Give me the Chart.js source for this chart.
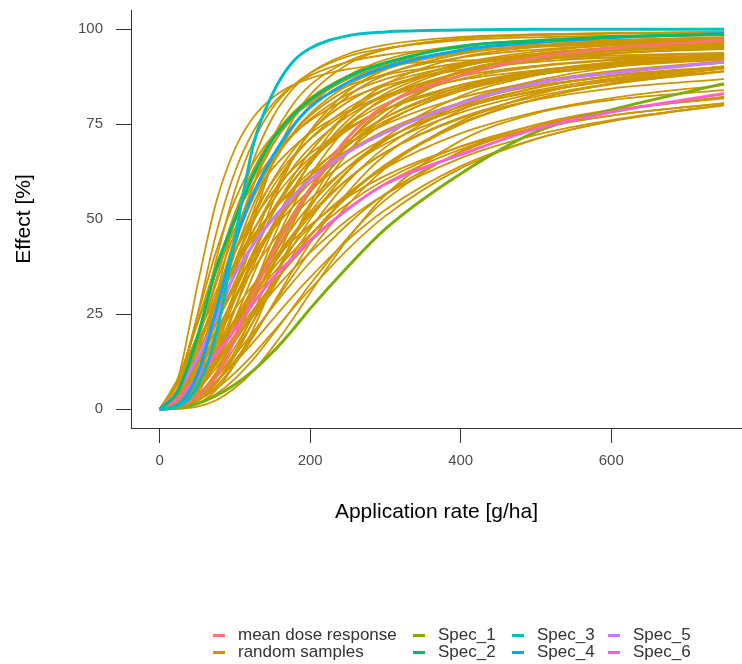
<!DOCTYPE html>
<html>
<head>
<meta charset="utf-8">
<title>Dose response</title>
<script src="https://cdn.jsdelivr.net/npm/chart.js@4/dist/chart.umd.min.js"></script>
<style>
  body { margin: 0; background: #fff; }
  #wrap { position: relative; width: 742px; height: 664px; }
  #legend {
    position: absolute; left: 213px; top: 627px;
    display: grid; grid-auto-flow: column;
    grid-template-rows: 16.7px 16.7px;
    grid-template-columns: 200px 99px 96px 110px;
    font: 17px "Liberation Sans", Arial, sans-serif; color: #333;
  }
  .item { display: flex; align-items: center; white-space: nowrap; }
  .key { width: 12px; height: 3px; margin-right: 13px; }
</style>
</head>
<body>
<div id="wrap">
  <canvas id="chart" width="742" height="664"></canvas>
  <div id="legend"></div>
</div>
<script>
// dose grid (g/ha) shared by every curve
const doses = [0, 25, 50, 75, 100, 125, 150, 175, 200, 250, 300, 400, 500, 600, 750];

// species curves and mean, effect in %
const meanResponse = [0, 0.7, 3.5, 8.5, 18.5, 30.5, 41, 50, 58, 71.5, 80, 87.8, 92.5, 95, 97.1];
const spec1 = [0, 0.4, 1.5, 3.6, 6.5, 10.3, 15, 20.5, 26.5, 37.5, 47.5, 62, 73, 78.8, 85.7];
const spec2 = [0, 5, 19, 37, 50, 62, 71, 77, 81.5, 87.5, 91.2, 95.5, 97, 98, 98.7];
const spec3 = [0, 0.8, 6, 19.5, 45, 70, 83, 91, 95, 98.3, 99.3, 99.8, 100, 100, 100];
const spec4 = [0, 1.3, 9, 26, 44, 57, 66.5, 74, 79.5, 86, 90, 94.5, 96.6, 97.8, 98.9];
const spec5 = [0, 5, 13.5, 24, 35.5, 43.5, 50, 55.5, 60.5, 67.6, 72.8, 80.5, 85.8, 88.4, 91.4];
const spec6 = [0, 3, 8.5, 14.5, 21, 28, 34.5, 39.5, 44.5, 52.7, 59.3, 67, 73.8, 78.2, 83.1];

// random samples
const sample01 = [0, 8.6, 32.4, 54.4, 68.5, 77, 82, 85.1, 87.1, 89.5, 90.7, 91.8, 92.3, 92.5, 92.7];
const sample02 = [0, 5.9, 24.7, 46.2, 62.5, 73.3, 80.3, 84.8, 87.8, 91.4, 93.3, 95.1, 95.9, 96.3, 96.6];
const sample03 = [0, 3.7, 18.5, 39.3, 57.6, 70.7, 79.3, 84.8, 88.5, 92.9, 95, 97.1, 97.9, 98.3, 98.6];
const sample04 = [0, 1.5, 11, 29.6, 49.8, 65.8, 76.8, 83.9, 88.5, 93.5, 95.9, 98, 98.7, 99, 99.3];
const sample05 = [0, 3.6, 14.8, 29.5, 43.9, 55.9, 65.2, 72.1, 77.3, 84.2, 88.3, 92.6, 94.6, 95.7, 96.6];
const sample06 = [0, 1.2, 7.8, 20.9, 37.1, 52.4, 64.5, 73.5, 79.9, 87.7, 92, 95.7, 97.2, 97.9, 98.4];
const sample07 = [0, 3.5, 12.6, 24.5, 36.4, 47, 56, 63.1, 68.9, 77.1, 82.5, 88.6, 91.8, 93.6, 95.2];
const sample08 = [0, 0.6, 4.3, 13.1, 26.3, 40.9, 54.4, 65.1, 73.3, 83.7, 89.4, 94.5, 96.4, 97.2, 97.9];
const sample09 = [0, 1.3, 6.5, 15.4, 26.6, 38, 48.5, 57.3, 64.6, 75, 81.6, 88.6, 91.9, 93.6, 95];
const sample10 = [0, 0.5, 3.3, 9.7, 19.3, 30.7, 42.3, 52.7, 61.5, 74.3, 82.1, 90, 93.3, 95, 96.1];
const sample11 = [0, 0.2, 1.4, 5.1, 11.9, 21.4, 32.7, 44, 54.2, 69.9, 79.6, 89, 92.6, 94.3, 95.4];
const sample12 = [0, 8, 22.9, 37.9, 50.2, 59.6, 66.7, 72, 76, 81.7, 85.2, 89.3, 91.4, 92.6, 93.7];
const sample13 = [0, 7.3, 19.2, 31, 41.5, 50.1, 57.1, 62.8, 67.3, 74.1, 78.9, 84.7, 88.1, 90.1, 92.1];
const sample14 = [0, 4.3, 12.9, 22.6, 32.1, 40.6, 48, 54.2, 59.5, 67.6, 73.4, 80.7, 85.1, 87.6, 90.1];
const sample15 = [0, 1.9, 7.1, 14.7, 23.4, 32.1, 40.3, 47.5, 53.8, 63.7, 70.9, 79.7, 84.6, 87.6, 90.1];
const sample16 = [0, 0.7, 3.3, 8.3, 15.1, 23.3, 31.7, 40, 47.5, 59.9, 69, 79.9, 85.5, 88.6, 91.2];
const sample17 = [0, 2.1, 9, 19.3, 30.8, 41.8, 51.4, 59.2, 65.5, 74.6, 80.4, 86.9, 90.1, 91.8, 93.2];
const sample18 = [0, 5.3, 18, 33, 46.4, 57.1, 65.4, 71.7, 76.4, 82.9, 86.9, 91.2, 93.4, 94.6, 95.6];
const sample19 = [0, 0.4, 4.3, 14.9, 31.7, 49.8, 64.8, 75.5, 82.8, 90.8, 94.7, 97.6, 98.6, 99, 99.3];
const sample20 = [0, 5.7, 14.8, 24.1, 32.8, 40.4, 47.1, 52.9, 57.7, 65.4, 71.3, 79, 83.9, 87, 90.1];
const sample21 = [0, 2.6, 8.4, 15.8, 23.8, 31.7, 39.1, 45.6, 51.4, 60.7, 67.7, 76.8, 82.3, 85.7, 88.9];
const sample22 = [0, 0.4, 2.2, 6, 11.9, 19.3, 27.5, 35.9, 43.8, 57.1, 67, 78.7, 84.6, 87.8, 90.2];
const sample23 = [0, 8.3, 19.3, 29.6, 38.5, 45.9, 52.1, 57.2, 61.5, 68.2, 73.1, 79.6, 83.6, 86.3, 89];
const sample24 = [0, 0.5, 2.3, 5.4, 9.6, 14.6, 20.2, 26, 31.6, 42.1, 50.9, 63.4, 71.1, 75.9, 80.2];
const sample25 = [0, 2.2, 6.7, 12.4, 18.6, 24.8, 30.9, 36.4, 41.3, 49.9, 56.6, 66.1, 72.2, 76.1, 80];
const sample26 = [0, 3.2, 9, 15.8, 22.8, 29.4, 35.6, 41.1, 46, 54.1, 60.4, 69.2, 74.8, 78.5, 82.1];
const sample27 = [0, 0.2, 1.4, 4, 8, 13.3, 19.6, 26.2, 32.9, 45.2, 55.1, 67.9, 74.9, 78.8, 81.8];
const sample28 = [0, 4.4, 11.5, 19.1, 26.4, 32.9, 38.9, 44.1, 48.5, 55.9, 61.5, 69.1, 74, 77.3, 80.6];
const sample29 = [0, 0.1, 0.7, 2.4, 5.6, 10.2, 16.3, 23.2, 30.6, 44.8, 56.4, 70.7, 77.9, 81.4, 84];
const sample30 = [0, 1.1, 4.1, 8.6, 14.3, 20.5, 26.9, 33, 38.7, 48.7, 56.7, 67.6, 74.3, 78.5, 82.3];
const sample31 = [0, 2.5, 11.7, 26, 41.1, 54.2, 64.4, 72.2, 77.8, 85.3, 89.5, 93.8, 95.6, 96.6, 97.4];
const sample32 = [0, 0.9, 4.9, 12.8, 23.7, 35.7, 46.9, 56.7, 64.7, 76, 83.1, 90.4, 93.6, 95.2, 96.4];
const sample33 = [0, 4.9, 19.2, 36.6, 51.7, 63.3, 71.7, 77.7, 82, 87.6, 90.7, 94, 95.6, 96.3, 97];
const sample34 = [0, 1.2, 6.9, 17.6, 31.1, 44.6, 56.3, 65.6, 72.8, 82.4, 88, 93.5, 95.8, 97, 97.9];
const sample35 = [0, 1.4, 6.2, 13.8, 23, 32.7, 41.9, 50, 57, 67.9, 75.4, 84.2, 88.8, 91.3, 93.4];
const sample36 = [0, 1.7, 6.4, 13.4, 21.5, 29.9, 38, 45.4, 52, 62.8, 70.7, 80.8, 86.5, 90, 93.1];
const sample37 = [0, 4.4, 17.6, 34.2, 49.3, 61.1, 69.8, 76.2, 80.9, 86.9, 90.4, 94.1, 95.7, 96.6, 97.3];
const sample38 = [0, 1.2, 8.6, 24, 42.7, 59.2, 71.4, 79.7, 85.3, 91.6, 94.8, 97.5, 98.4, 98.9, 99.2];
const sample39 = [0, 3.8, 13.7, 26.2, 38.6, 49.5, 58.4, 65.5, 71.2, 79.2, 84.3, 90.2, 93.2, 94.8, 96.3];
const sample40 = [0, 1.4, 7.1, 16.8, 28.8, 40.7, 51.5, 60.5, 67.7, 77.9, 84.2, 91, 94.1, 95.8, 97.1];
const sample41 = [0, 0.4, 3, 9.2, 19.3, 31.8, 44.5, 55.9, 65.1, 78, 85.5, 92.6, 95.3, 96.6, 97.5];
const sample42 = [0, 0.6, 3.6, 9.7, 18.5, 28.8, 39.3, 49, 57.4, 70.2, 78.6, 87.7, 92, 94.2, 95.8];
const sample43 = [0, 5.6, 16.2, 27.6, 38.2, 47.3, 54.9, 61.2, 66.2, 73.7, 79, 85.4, 89, 91.2, 93.3];
const sample44 = [0, 5, 16.3, 29.5, 41.7, 51.7, 59.9, 66.2, 71.1, 78.1, 82.7, 87.7, 90.4, 92, 93.3];
const sample45 = [0, 7.6, 24.4, 41.5, 55.1, 65, 71.9, 76.9, 80.5, 85.1, 88, 90.9, 92.3, 93.1, 93.8];
const sample46 = [0, 2.9, 10.1, 19.6, 29.5, 38.9, 47.3, 54.4, 60.4, 69.5, 75.9, 83.7, 88, 90.6, 92.8];
const sample47 = [0, 0.7, 3.6, 8.9, 16.3, 24.8, 33.8, 42.3, 50, 62.6, 71.6, 82.4, 87.9, 90.9, 93.3];
const sample48 = [0, 4.3, 12.2, 20.8, 29.3, 37.1, 44.1, 50.2, 55.3, 63.6, 69.9, 78.1, 83.2, 86.5, 89.7];
const sample49 = [0, 1.3, 5.2, 10.8, 17.8, 25.2, 32.4, 39.4, 45.7, 56.3, 64.4, 75.3, 81.6, 85.5, 89];
const sample50 = [0, 6.9, 17.4, 27.8, 37.2, 45.2, 52.1, 57.7, 62.4, 69.8, 75, 82, 86.2, 89, 91.6];
const sample51 = [0, 0.6, 2.9, 7.1, 12.9, 19.8, 27.2, 34.6, 41.6, 53.8, 63.4, 75.8, 82.8, 86.9, 90.3];
const sample52 = [0, 1.7, 6.6, 13.6, 21.7, 29.9, 37.7, 44.7, 50.8, 60.5, 67.6, 76.5, 81.4, 84.4, 86.9];
const sample53 = [0, 0.9, 3.4, 7.4, 12.3, 17.8, 23.6, 29.3, 34.7, 44.5, 52.5, 64, 71.2, 75.8, 80.1];
const sample54 = [0, 2, 6.7, 12.8, 19.6, 26.4, 32.9, 38.8, 44, 52.7, 59.4, 68.4, 73.8, 77.3, 80.5];
const sample55 = [0, 2.2, 12.3, 28.5, 45.4, 59.3, 69.5, 76.7, 81.7, 87.8, 91.1, 94.1, 95.4, 95.9, 96.4];
const sample56 = [0, 0.3, 2.3, 6.8, 14.1, 23.4, 33.8, 43.9, 53.1, 67.6, 77.4, 88, 92.9, 95.2, 96.9];
const sample57 = [0, 2.6, 9.6, 19.2, 29.5, 39.4, 48, 55.3, 61.4, 70.6, 76.8, 84.2, 88, 90.3, 92.4];
const sample58 = [0, 3, 12.3, 25.4, 38.9, 50.6, 60.2, 67.6, 73.2, 80.9, 85.7, 90.6, 93, 94.3, 95.4];
const sample59 = [0, 1, 5.1, 12.4, 21.9, 32.2, 42.1, 50.8, 58.2, 69.4, 76.8, 84.8, 88.8, 90.9, 92.5];
const sample60 = [0, 2.8, 8.5, 15.5, 22.8, 30, 36.8, 42.7, 48, 56.8, 63.5, 72.6, 78.2, 81.9, 85.4];
const sample61 = [0, 3.1, 11.5, 22.4, 33.6, 43.9, 52.5, 59.6, 65.3, 73.5, 79, 85.3, 88.5, 90.4, 92.1];
const sample62 = [0, 1.6, 5.8, 11.7, 18.5, 25.8, 32.8, 39.5, 45.6, 56, 64, 75, 81.6, 85.8, 89.7];
const sample63 = [0, 8.3, 22.3, 36.1, 47.5, 56.4, 63.3, 68.5, 72.7, 78.5, 82.3, 86.7, 89.2, 90.7, 92];
const sample64 = [0, 0.3, 2.2, 7, 15.1, 25.6, 37.2, 48, 57.4, 71.4, 80.1, 88.6, 92.1, 93.7, 94.8];

const randomSamples = [sample01, sample02, sample03, sample04, sample05, sample06, sample07, sample08,
  sample09, sample10, sample11, sample12, sample13, sample14, sample15, sample16, sample17, sample18,
  sample19, sample20, sample21, sample22, sample23, sample24, sample25, sample26, sample27, sample28,
  sample29, sample30, sample31, sample32, sample33, sample34, sample35, sample36, sample37, sample38,
  sample39, sample40, sample41, sample42, sample43, sample44, sample45, sample46, sample47, sample48,
  sample49, sample50, sample51, sample52, sample53, sample54, sample55, sample56, sample57, sample58,
  sample59, sample60, sample61, sample62, sample63, sample64];

const xTicks = [0, 200, 400, 600];
const yTicks = [0, 25, 50, 75, 100];

const legendLabels = ['mean dose response', 'random samples', 'Spec_1', 'Spec_2', 'Spec_3', 'Spec_4', 'Spec_5', 'Spec_6'];
const legendColors = ['#F8766D', '#CD9600', '#7CAE00', '#00BE67', '#00BFC4', '#00A9FF', '#C77CFF', '#FF61CC'];

const FONT = '"Liberation Sans", Arial, sans-serif';
const toPoints = ys => ys.map((y, i) => ({ x: doses[i], y: y }));

function curve(values, color, width) {
  return {
    data: toPoints(values),
    borderColor: color,
    borderWidth: width,
    pointRadius: 0,
    fill: false,
    cubicInterpolationMode: 'monotone'
  };
}

// first dataset is painted last, so species curves go first
const datasets = [
  curve(spec3, legendColors[4], 3),
  curve(spec2, legendColors[3], 3),
  curve(spec4, legendColors[5], 3),
  curve(meanResponse, legendColors[0], 3),
  curve(spec5, legendColors[6], 3),
  curve(spec6, legendColors[7], 3),
  curve(spec1, legendColors[2], 3)
];
randomSamples.forEach(s => datasets.push(curve(s, legendColors[1], 1.8)));

const axisGrid = { drawOnChartArea: false, drawTicks: true, tickLength: 15, tickColor: '#333', color: '#333' };

new Chart(document.getElementById('chart'), {
  type: 'line',
  data: { datasets: datasets },
  options: {
    responsive: false,
    animation: false,
    events: [],
    layout: { padding: { top: 10, right: 0, bottom: 0, left: 0 } },
    plugins: { legend: { display: false }, tooltip: { enabled: false } },
    scales: {
      x: {
        type: 'linear',
        min: -38.1,
        max: 773.8,
        afterBuildTicks: s => { s.ticks = xTicks.map(v => ({ value: v })); },
        afterFit: s => { s.height = 236; s.paddingLeft = 0; s.paddingRight = 0; },
        ticks: { font: { size: 15, family: FONT }, color: '#4D4D4D', padding: 9, maxRotation: 0 },
        grid: axisGrid,
        border: { display: true, color: '#333', width: 1 },
        title: {
          display: true, text: 'Application rate [g/ha]', color: '#000',
          font: { size: 21, family: FONT }, padding: { top: 0, bottom: 139 }
        }
      },
      y: {
        type: 'linear',
        min: -4.92,
        max: 105.08,
        afterBuildTicks: s => { s.ticks = yTicks.map(v => ({ value: v })); },
        afterFit: s => { s.width = 131; s.paddingTop = 0; s.paddingBottom = 0; },
        ticks: { font: { size: 15, family: FONT }, color: '#4D4D4D', padding: 13 },
        grid: axisGrid,
        border: { display: true, color: '#333', width: 1 },
        title: {
          display: true, text: 'Effect [%]', color: '#000',
          font: { size: 21, family: FONT }, padding: { top: 12, bottom: 0 }
        }
      }
    }
  }
});

// legend laid out in columns, like the original
const legend = document.getElementById('legend');
legendLabels.forEach((label, i) => {
  const item = document.createElement('div');
  item.className = 'item';
  const key = document.createElement('span');
  key.className = 'key';
  key.style.background = legendColors[i];
  const text = document.createElement('span');
  text.textContent = label;
  item.appendChild(key);
  item.appendChild(text);
  legend.appendChild(item);
});
</script>
</body>
</html>
